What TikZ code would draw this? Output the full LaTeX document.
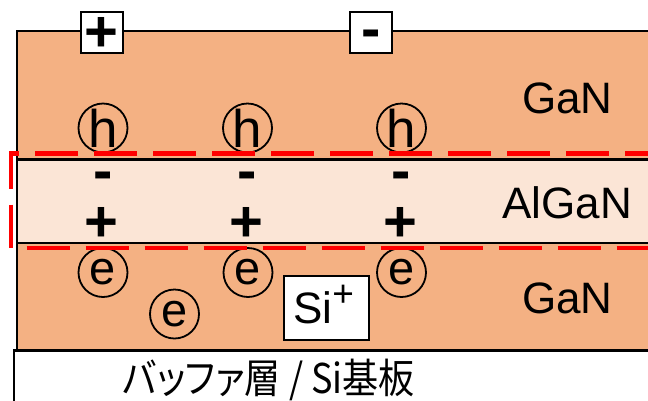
\documentclass[tikz,border=0pt]{standalone}
\usepackage{fontspec}
\setmainfont{Liberation Sans}
\newfontfamily\signfont{Liberation Sans Bold}
\newfontfamily\jpfont[RawFeature={+palt}]{Noto Sans CJK JP}
\definecolor{ganfill}{HTML}{F4B183}
\definecolor{alganfill}{HTML}{FBE5D6}
\begin{document}
\begin{tikzpicture}[x=1pt,y=-1pt,
  edge/.style={draw=black,line width=2.2pt},
  lbl/.style={inner sep=0pt,font=\fontsize{44}{48}\selectfont},
  sign/.style={inner sep=0pt,anchor=base,text height=36pt,text depth=0pt,
    font=\signfont\fontsize{58}{60}\selectfont},
  minussign/.style={sign,text height=19pt},
  electrode/.style={draw=black,fill=white,line width=2pt,inner sep=0pt,
    minimum width=42pt,minimum height=41pt},
  ring/.style={circle,draw=black,line width=1.8pt,inner sep=0pt,minimum size=49pt},
  hole/.style={ring,font=\fontsize{53}{55}\selectfont},
  electron/.style={ring,font=\fontsize{47}{50}\selectfont},
  channel/.style={draw=red,line width=4.5pt,dash pattern=on 43pt off 16pt}
]
\useasboundingbox (0,0) rectangle (648,400);
\clip (0,0) rectangle (648,400);

% layer stack
\fill[ganfill]   (17,31)    rectangle (700,159.5);
\fill[alganfill] (17,159.5) rectangle (700,243);
\fill[ganfill]   (17,243)   rectangle (700,350.5);
\draw[edge] (700,31) -- (17,31) -- (17,350.5);
\draw[edge] (17,159.5) -- (700,159.5);
\draw[edge] (17,243) -- (700,243);
\filldraw[edge,fill=white] (14,420) -- (14,350.5) -- (700,350.5);

% electrodes
\node[electrode] (anode) at (102,32.5) {};
\node[electrode] (cathode) at (371,32.5) {};
\node[sign] (anodesign) at (101.5,51.6) {+};
\node[minussign] (cathodesign) at (371,48) {-};

% holes and electrons
\node[hole] (h1) at (103,128) {h};
\node[hole] (h2) at (247.5,128) {h};
\node[hole] (h3) at (401.5,128) {h};
\node[electron] (e1) at (103,272.5) {e};
\node[electron] (e2) at (248,272.5) {e};
\node[electron] (e3) at (401.5,272.5) {e};
\node[electron] (e4) at (174.5,314) {e};

% polarisation charges in AlGaN
\node[minussign] (m1) at (103,190.5) {-};
\node[minussign] (m2) at (247,190.5) {-};
\node[minussign] (m3) at (401,190.5) {-};
\node[sign] (p1) at (101,241.6) {+};
\node[sign] (p2) at (246.5,241.6) {+};
\node[sign] (p3) at (400,241.6) {+};

% 2DEG channel region
\draw[channel] (727,153.5) -- (11,153.5) -- (11,248) -- (727,248);

% layer names
\node[lbl,anchor=base] (gantop) at (567.5,113) {GaN};
\node[lbl,anchor=base] (algan) at (567,218) {AlGaN};
\node[lbl,anchor=base] (ganbot) at (567.5,313) {GaN};

% Si donor
\node[draw=black,fill=white,line width=2pt,inner sep=0pt,
  minimum width=85pt,minimum height=64pt] (sibox) at (326.5,308) {};
\node[lbl,anchor=base west] (si) at (293,323)
  {Si\raisebox{17pt}{\fontsize{37}{37}\selectfont +}};

% buffer / substrate
\node[inner sep=0pt,anchor=base] (buffer) at (269,393)
  {\scalebox{0.88}[1]{\jpfont\fontsize{41}{44}\selectfont バッファ層 / Si基板}};
\end{tikzpicture}
\end{document}
